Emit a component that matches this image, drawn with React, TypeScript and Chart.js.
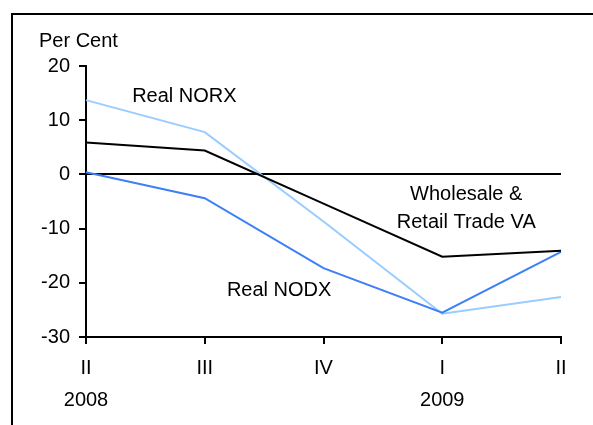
import React, { useEffect, useRef } from "react";
import { Chart, registerables } from "chart.js";

Chart.register(...registerables);

const quarters = ["II", "III", "IV", "I", "II"];
const years = ["2008", "", "", "2009", ""];
const wholesaleRetail = [5.9, 4.4, -5.4, -15.2, -14.1];
const realNORX = [13.7, 7.8, -8.7, -25.7, -22.6];
const realNODX = [0.4, -4.4, -17.3, -25.5, -14.3];
const yTicks = [-30, -20, -10, 0, 10, 20];

const FONT = "'Liberation Sans', Arial, sans-serif";
const FS = 20;

const decorPlugin = {
  id: "decor",
  beforeDraw(chart: any) {
    const ctx = chart.ctx;
    ctx.save();
    ctx.fillStyle = "#fff";
    ctx.fillRect(0, 0, chart.width, chart.height);
    ctx.strokeStyle = "#000";
    ctx.lineWidth = 2;
    ctx.strokeRect(12, 14, 1000, 1000);
    ctx.restore();
  },
  afterDraw(chart: any) {
    const ctx = chart.ctx;
    const xs = chart.scales.x;
    const ys = chart.scales.y;
    ctx.save();
    ctx.fillStyle = "#000";
    ctx.font = `${FS}px ${FONT}`;
    ctx.textBaseline = "middle";
    ctx.textAlign = "left";
    ctx.fillText("Per Cent", 39, 41);
    ctx.textAlign = "center";
    ctx.fillText("Real NORX", (xs.getPixelForValue(0) + xs.getPixelForValue(1)) / 2 + 39, ys.getPixelForValue(14.4));
    ctx.fillText("Real NODX", (xs.getPixelForValue(1) + xs.getPixelForValue(2)) / 2 + 15, ys.getPixelForValue(-21.5));
    const wx = xs.getPixelForValue(3) + 24;
    ctx.fillText("Wholesale &", wx, ys.getPixelForValue(-3.7));
    ctx.fillText("Retail Trade VA", wx, ys.getPixelForValue(-8.9));
    ctx.restore();
  },
};

export default function App() {
  const ref = useRef<HTMLCanvasElement | null>(null);
  useEffect(() => {
    document.body.style.margin = "0";
    const labels = quarters.map((q, i) => [q, years[i]]);
    const chart = new Chart(ref.current as HTMLCanvasElement, {
      type: "line",
      data: {
        labels,
        datasets: [
          {
            label: "Wholesale & Retail Trade VA",
            data: wholesaleRetail,
            borderColor: "#000000",
            borderWidth: 2,
            pointRadius: 0,
            tension: 0,
          },
          {
            label: "Real NODX",
            data: realNODX,
            borderColor: "#3D7FF6",
            borderWidth: 2,
            pointRadius: 0,
            tension: 0,
          },
          {
            label: "Real NORX",
            data: realNORX,
            borderColor: "#99CCFF",
            borderWidth: 2,
            pointRadius: 0,
            tension: 0,
          },
        ],
      },
      options: {
        animation: false,
        responsive: false,
        devicePixelRatio: 1,
        layout: { padding: { left: 0, top: 66, right: 32, bottom: 0 } },
        plugins: {
          legend: { display: false },
          tooltip: { enabled: false },
          title: { display: false },
        },
        scales: {
          x: {
            type: "category",
            offset: false,
            grid: {
              drawOnChartArea: false,
              drawTicks: true,
              tickLength: 7,
              tickColor: "#000",
              lineWidth: 2,
            },
            border: { display: true, color: "#000", width: 2 },
            ticks: {
              color: "#000",
              font: { family: FONT, size: FS, lineHeight: 32 / FS },
              padding: 8,
              maxRotation: 0,
              autoSkip: false,
            },
            afterFit(scale: any) {
              scale.height = 88;
            },
          },
          y: {
            min: -30,
            max: 20,
            afterBuildTicks(scale: any) {
              scale.ticks = yTicks.map((v) => ({ value: v }));
            },
            grid: {
              drawOnChartArea: true,
              drawTicks: true,
              tickLength: 7,
              tickColor: "#000",
              lineWidth: 2,
              color: (c: any) => (c.tick && c.tick.value === 0 ? "#000" : "rgba(0,0,0,0)"),
            },
            border: { display: true, color: "#000", width: 2 },
            ticks: {
              color: "#000",
              font: { family: FONT, size: FS },
              padding: 9,
            },
            afterFit(scale: any) {
              scale.width = 86;
            },
          },
        },
      },
      plugins: [decorPlugin],
    });
    return () => chart.destroy();
  }, []);
  return (
    <div style={{ width: 593, height: 425 }}>
      <canvas ref={ref} width={593} height={425} style={{ display: "block" }} />
    </div>
  );
}
